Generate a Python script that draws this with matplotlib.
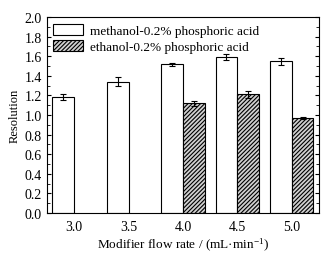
import numpy as np
import matplotlib.pyplot as plt
from matplotlib.ticker import MultipleLocator

plt.rcParams['font.family'] = ['Liberation Serif', 'DejaVu Serif']
plt.rcParams['mathtext.fontset'] = 'stix'
plt.rcParams['hatch.linewidth'] = 0.8

flow = [3.0, 3.5, 4.0, 4.5, 5.0]
methanol = [1.18, 1.34, 1.52, 1.59, 1.55]
methanol_err = [0.03, 0.045, 0.015, 0.03, 0.035]
eth_flow = [4.0, 4.5, 5.0]
ethanol = [1.12, 1.21, 0.97]
ethanol_err = [0.025, 0.04, 0.012]

fig = plt.figure(figsize=(3.35, 2.55), dpi=100)
ax = fig.add_axes([0.14, 0.161, 0.812, 0.768])

w = 0.2
ax.bar(np.array(flow) - w / 2, methanol, w, yerr=methanol_err, color='white',
       edgecolor='black', linewidth=0.8, capsize=2, error_kw=dict(elinewidth=0.8, capthick=0.8),
       label='methanol-0.2% phosphoric acid')
ax.bar(np.array(eth_flow) + w / 2, ethanol, w, yerr=ethanol_err, color='#d0d0d0',
       edgecolor='black', hatch='////////', linewidth=0.8, capsize=2,
       error_kw=dict(elinewidth=0.8, capthick=0.8),
       label='ethanol-0.2% phosphoric acid')

ax.set_xlim(2.75, 5.25)
ax.set_ylim(0, 2.0)
ax.set_xticks(flow)
ax.set_xticklabels(['%.1f' % f for f in flow])
ax.yaxis.set_minor_locator(MultipleLocator(0.1))
ax.tick_params(axis='y', which='both', direction='in', right=True, labelsize=10)
ax.tick_params(axis='y', which='major', length=3)
ax.tick_params(axis='y', which='minor', length=2)
ax.tick_params(axis='x', direction='in', length=0, labelsize=10, pad=5)
ax.set_yticks(np.arange(0, 2.01, 0.2))
ax.set_yticklabels(['%.1f' % v for v in np.arange(0, 2.01, 0.2)])
for s in ax.spines.values():
    s.set_linewidth(0.8)

ax.set_ylabel('Resolution', fontsize=9, labelpad=3)
ax.set_xlabel('Modifier flow rate / (mL·min$^{\\mathregular{-1}}$)', fontsize=9.5, labelpad=2)

ax.legend(loc='upper left', frameon=False, fontsize=9.5, handlelength=2.2,
          handleheight=0.9, borderaxespad=0.2, borderpad=0.3, labelspacing=0.25,
          handletextpad=0.6)

fig.savefig('out.png', dpi=100)
